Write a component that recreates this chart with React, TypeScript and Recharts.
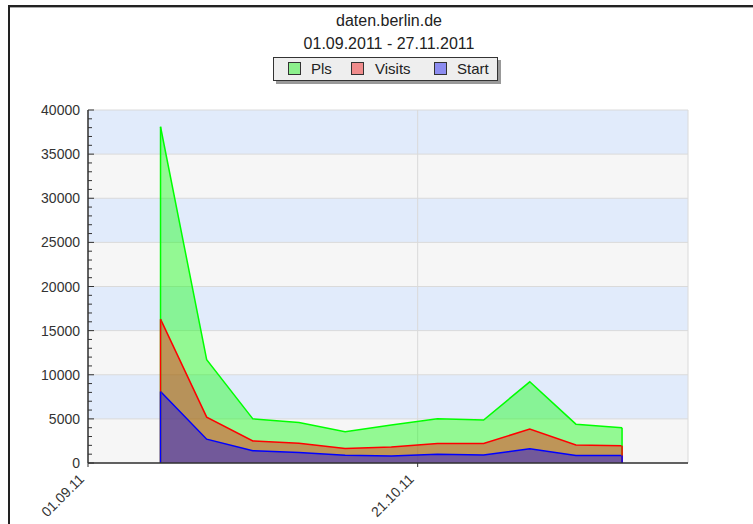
import React from 'react';
import { AreaChart, Area, XAxis, YAxis, CartesianGrid, ReferenceLine } from 'recharts';

const titleLines = ['daten.berlin.de', '01.09.2011 - 27.11.2011'];

const weekStarts = [
  '12.09.2011', '19.09.2011', '26.09.2011', '03.10.2011', '10.10.2011', '17.10.2011',
  '24.10.2011', '31.10.2011', '07.11.2011', '14.11.2011', '21.11.2011',
];
const pls = [38100, 11700, 5000, 4600, 3550, 4300, 5000, 4870, 9200, 4400, 4000];
const visits = [16300, 5200, 2500, 2250, 1650, 1800, 2200, 2200, 3850, 2050, 1950];
const start = [8100, 2700, 1400, 1200, 870, 800, 1000, 900, 1600, 850, 850];

const axisStartDate = '01.09.2011';
const axisEndDate = '01.12.2011';
const xTickDates = ['01.09.2011', '21.10.2011'];
const yMajorTicks = [0, 5000, 10000, 15000, 20000, 25000, 30000, 35000, 40000];
const yMinorStep = 1000;
const yMax = 40000;

const seriesInfo = [
  { key: 'pls', name: 'Pls', stroke: '#00ff00', swatch: '#8cf08c', values: pls },
  { key: 'visits', name: 'Visits', stroke: '#ff0000', swatch: '#f08c8c', values: visits },
  { key: 'start', name: 'Start', stroke: '#0000ff', swatch: '#8c8cf0', values: start },
];

const parseDate = (s: string) => {
  const [d, m, y] = s.split('.').map(Number);
  return Date.UTC(y, m - 1, d);
};
const dayOf = (s: string) => Math.round((parseDate(s) - parseDate(axisStartDate)) / 86400000);
const fmtDay = (day: number) => {
  const dt = new Date(parseDate(axisStartDate) + day * 86400000);
  const dd = String(dt.getUTCDate()).padStart(2, '0');
  const mm = String(dt.getUTCMonth() + 1).padStart(2, '0');
  const yy = String(dt.getUTCFullYear()).slice(2);
  return `${dd}.${mm}.${yy}`;
};

const data = weekStarts.map((w, i) => ({
  day: dayOf(w),
  pls: pls[i],
  visits: visits[i],
  start: start[i],
}));

const xTicks = xTickDates.map(dayOf);
const xDomain = [0, dayOf(axisEndDate)];
const yMinorTicks: number[] = [];
for (let v = 0; v <= yMax; v += yMinorStep) yMinorTicks.push(v);

const FONT = '"Liberation Sans", Arial, Helvetica, sans-serif';

const YTick = (props: any) => {
  const { x, y, payload } = props;
  const v = payload.value;
  const major = v % 5000 === 0;
  const ax = x + 8;
  return (
    <g>
      <line x1={ax} x2={ax + (major ? 6 : 4)} y1={y} y2={y} stroke="#333" strokeWidth={1} />
      {major && (
        <text x={x} y={y} dy="0.36em" textAnchor="end" fontSize={14} fill="#333" fontFamily={FONT}>
          {v}
        </text>
      )}
    </g>
  );
};

const XTick = (props: any) => {
  const { x, y, payload } = props;
  const tx = x - 10;
  const ty = y + 4;
  return (
    <text
      x={tx}
      y={ty}
      dy="0.71em"
      textAnchor="end"
      fontSize={14}
      fill="#333"
      fontFamily={FONT}
      transform={`rotate(-45 ${tx} ${ty})`}
    >
      {fmtDay(payload.value)}
    </text>
  );
};

const firstDay = data[0].day;
const lastDay = data[data.length - 1].day;

export default function App() {
  return (
    <div
      style={{
        position: 'absolute',
        left: 0,
        top: 0,
        width: 753,
        height: 524,
        overflow: 'hidden',
        background: '#fff',
        fontFamily: FONT,
      }}
    >
      <div style={{ position: 'absolute', left: 8, top: 5, width: 745, height: 2, background: '#222', zIndex: 5 }} />
      <div style={{ position: 'absolute', left: 10, top: 7, width: 743, height: 1, background: '#aaa', zIndex: 5 }} />
      <div style={{ position: 'absolute', left: 8, top: 5, width: 2, height: 519, background: '#222', zIndex: 5 }} />
      {titleLines.map((t, i) => (
        <div
          key={i}
          style={{
            position: 'absolute',
            left: 0,
            width: 778,
            top: i === 0 ? 12 : 35,
            textAlign: 'center',
            fontSize: 16,
            lineHeight: '18px',
            color: '#222',
            whiteSpace: 'nowrap',
            zIndex: 5,
          }}
        >
          {t}
        </div>
      ))}
      <div
        style={{
          position: 'absolute',
          left: 273,
          top: 57,
          width: 225,
          height: 24,
          boxSizing: 'border-box',
          background: '#eeeeee',
          border: '1px solid #333',
          boxShadow: '3px 3px 0 #999',
          zIndex: 5,
        }}
      >
        {seriesInfo.map((s, i) => {
          const sx = [14, 77, 160][i];
          const tx = [37, 101, 183][i];
          return (
            <React.Fragment key={s.key}>
              <div
                style={{
                  position: 'absolute',
                  left: sx,
                  top: 4,
                  width: 13,
                  height: 13,
                  boxSizing: 'border-box',
                  background: s.swatch,
                  border: '1px solid #333',
                }}
              />
              <div
                style={{
                  position: 'absolute',
                  left: tx,
                  top: 2,
                  fontSize: 15,
                  lineHeight: '17px',
                  color: '#222',
                  whiteSpace: 'nowrap',
                }}
              >
                {s.name}
              </div>
            </React.Fragment>
          );
        })}
      </div>
      <AreaChart
        width={753}
        height={524}
        data={data}
        margin={{ top: 110, right: 65, bottom: 0, left: 28 }}
        style={{ position: 'absolute', left: 0, top: 0 }}
      >
        <CartesianGrid
          yAxisId="grid"
          stroke="#dadada"
          strokeWidth={1}
          horizontalFill={['#e1ebfb', '#f6f6f6']}
          fillOpacity={1}
        />
        <XAxis
          dataKey="day"
          type="number"
          domain={xDomain}
          ticks={xTicks}
          interval={0}
          allowDataOverflow
          height={61}
          tickSize={4}
          tickLine={{ stroke: '#333' }}
          axisLine={{ stroke: '#333', strokeWidth: 1.5 }}
          tick={<XTick />}
        />
        <YAxis
          type="number"
          domain={[0, yMax]}
          ticks={yMinorTicks}
          interval={0}
          allowDataOverflow
          width={60}
          tickSize={0}
          tickMargin={8}
          tickLine={false}
          axisLine={{ stroke: '#333', strokeWidth: 1.5 }}
          tick={<YTick />}
        />
        <YAxis
          yAxisId="grid"
          type="number"
          domain={[0, yMax]}
          ticks={yMajorTicks}
          allowDataOverflow
          hide
        />
        {seriesInfo.map((s) => (
          <Area
            key={s.key}
            type="linear"
            dataKey={s.key}
            name={s.name}
            stroke={s.stroke}
            strokeWidth={1.5}
            fill={s.stroke}
            fillOpacity={0.4}
            dot={false}
            activeDot={false}
            isAnimationActive={false}
          />
        ))}
        {seriesInfo.map((s) => (
          <ReferenceLine
            key={s.key + '-first'}
            segment={[
              { x: firstDay, y: 0 },
              { x: firstDay, y: s.values[0] },
            ]}
            stroke={s.stroke}
            strokeWidth={1.5}
            ifOverflow="visible"
          />
        ))}
        {seriesInfo.map((s) => (
          <ReferenceLine
            key={s.key + '-last'}
            segment={[
              { x: lastDay, y: 0 },
              { x: lastDay, y: s.values[s.values.length - 1] },
            ]}
            stroke={s.stroke}
            strokeWidth={1.5}
            ifOverflow="visible"
          />
        ))}
      </AreaChart>
    </div>
  );
}
